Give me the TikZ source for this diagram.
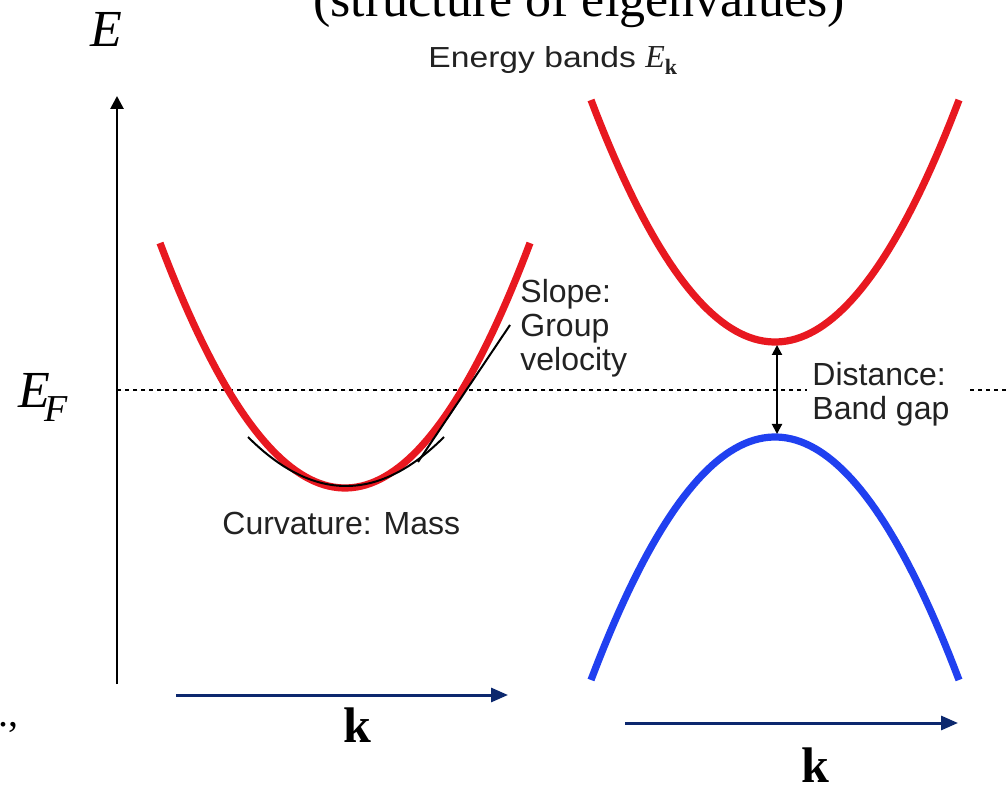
\documentclass[tikz,border=0pt]{standalone}
\usepackage{fontspec}
\setmainfont{Liberation Serif}
\newfontfamily\lsans{Liberation Sans}
\newfontfamily\lsanswide{Liberation Sans}[FakeStretch=1.16]
\usetikzlibrary{arrows.meta}
\definecolor{bandred}{RGB}{232,24,32}
\definecolor{bandblue}{RGB}{32,64,240}
\definecolor{navy}{RGB}{12,40,110}
\definecolor{txtgray}{RGB}{34,34,34}
\begin{document}
\begin{tikzpicture}[x=0.5pt,y=-0.5pt,
  redband/.style={draw=bandred, line width=3.6pt},
  blueband/.style={draw=bandblue, line width=3.6pt},
  eaxis/.style={line width=1.35pt, -{Triangle[length=6.5pt,width=6.5pt]}},
  kaxis/.style={draw=navy, line width=1.5pt, -{Triangle[length=8.5pt,width=7pt]}},
  gaparrow/.style={line width=1pt, {Triangle[length=5pt,width=5pt]}-{Triangle[length=5pt,width=5pt]}},
  tangent/.style={line width=1pt, draw=black},
  fermi/.style={line width=1pt, dash pattern=on 2pt off 2pt},
  annot/.style={font=\lsans\fontsize{16}{17}\selectfont, text=txtgray, inner sep=0pt, align=left},
  klabel/.style={font=\bfseries\fontsize{25}{25}\selectfont, inner sep=0pt},
  elabel/.style={font=\itshape\fontsize{26}{26}\selectfont, inner sep=0pt}
]
\useasboundingbox (0,0) rectangle (1006,785);
\clip (0,0) rectangle (1006,785);

% title fragment (cut at top)
\node[font=\fontsize{26}{26}\selectfont, inner sep=0pt, anchor=base west] (title) at (313,17) {(structure of eigenvalues)};
\node[font=\fontsize{20}{20}\selectfont, inner sep=0pt, anchor=base west] (punct) at (-2,726) {.,};

% energy axis
\coordinate (Ebot) at (117,684);
\coordinate (Etop) at (117,96);
\draw[eaxis] (Ebot) -- (Etop);
\node[elabel, anchor=base west] (Elab) at (90,47) {E};
\node[inner sep=0pt, anchor=base west] (EFlab) at (18,408)
  {\fontsize{26}{26}\selectfont\itshape E\kern-3pt\raisebox{-7pt}{\fontsize{19}{19}\selectfont F}};

% Fermi level
\coordinate (fL) at (117,390);
\coordinate (fM1) at (807,390);
\coordinate (fM2) at (970,390);
\coordinate (fR) at (1006,390);
\draw[fermi] (fL) -- (fM1);
\draw[fermi] (fM2) -- (fR);

% left band (metal)
\draw[redband] plot[domain=-185:185, samples=80] ({345+\x},{488-245*(\x/185)^2});
\draw[tangent] plot[domain=-98:98, samples=50] ({346+\x},{486-49*(\x/98)^2});
\coordinate (sl1) at (418,462);
\coordinate (sl2) at (510,325);
\draw[tangent] (sl1) -- (sl2);

\node[annot, anchor=west] (slope) at (520,328) {Slope:\\Group\\velocity};
\node[annot, anchor=base west] (curv) at (222,535) {Curvature: Mass};

% right bands (insulator)
\node[font=\lsanswide\fontsize{14.5}{15}\selectfont, text=txtgray, inner sep=0pt, anchor=base west] (ebands) at (428,68)
  {Energy bands {\rmfamily\itshape\fontsize{16}{16}\selectfont E}\raisebox{-3.5pt}{\rmfamily\bfseries\fontsize{11}{11}\selectfont k}};
\draw[redband] plot[domain=-184:184, samples=80] ({775+\x},{342-242*(\x/184)^2});
\draw[blueband] plot[domain=-184:184, samples=80] ({775+\x},{437+243*(\x/184)^2});
\coordinate (gTop) at (777,345);
\coordinate (gBot) at (777,434);
\draw[gaparrow] (gTop) -- (gBot);
\node[annot, anchor=west] (dist) at (812,394) {Distance:\\Band gap};

% k axes
\coordinate (k1a) at (176,695);
\coordinate (k1b) at (508,695);
\draw[kaxis] (k1a) -- (k1b);
\node[klabel, anchor=base] (k1) at (357,742) {k};
\coordinate (k2a) at (625,723);
\coordinate (k2b) at (958,723);
\draw[kaxis] (k2a) -- (k2b);
\node[klabel, anchor=base] (k2) at (815,782) {k};
\end{tikzpicture}
\end{document}
